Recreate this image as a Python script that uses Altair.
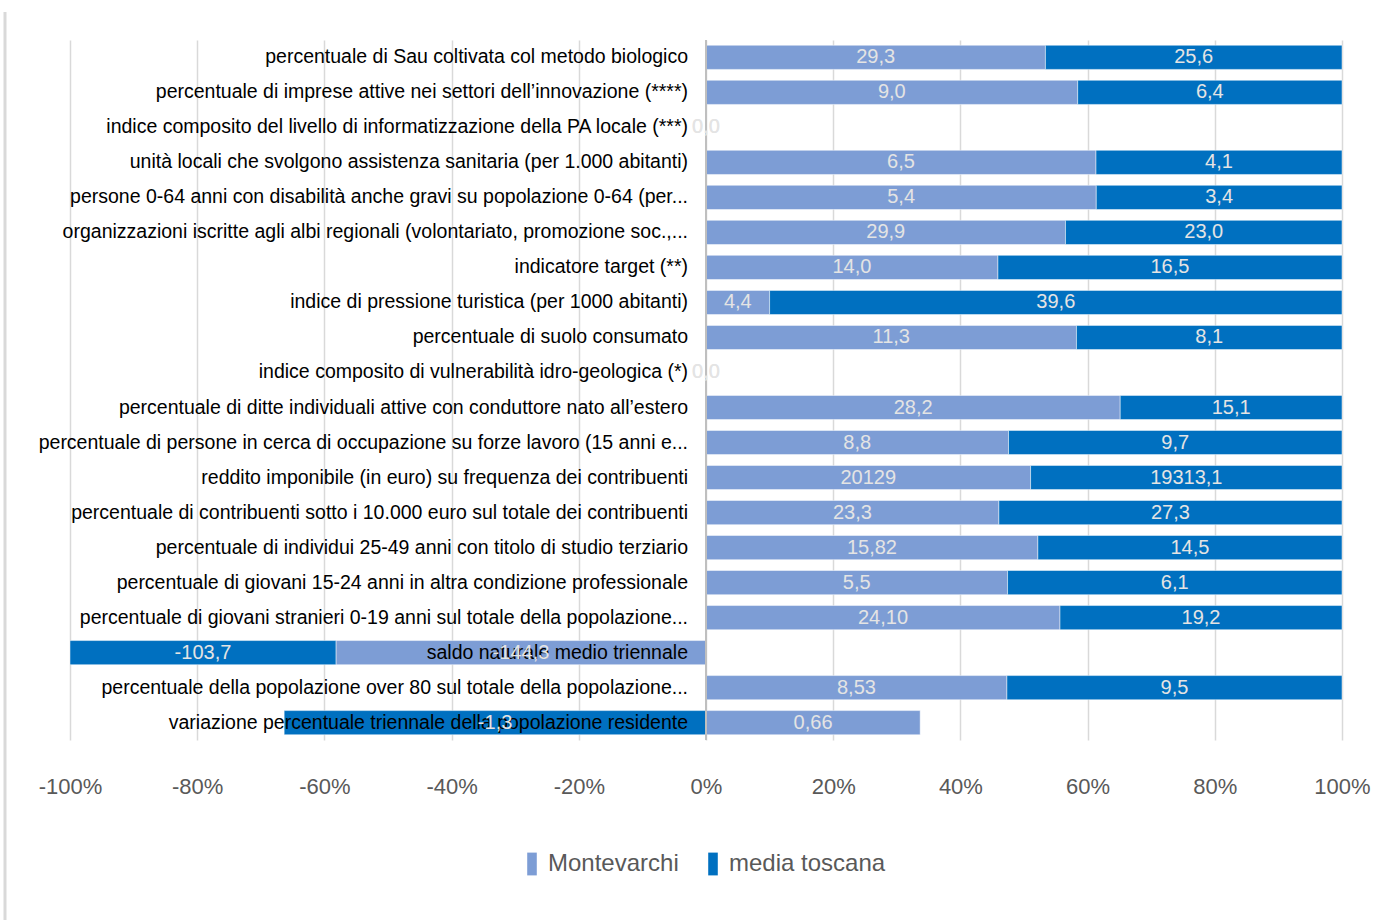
import altair as alt
import pandas as pd

categories = [
    "percentuale di Sau coltivata col metodo biologico",
    "percentuale di imprese attive nei settori dell\u2019innovazione (****)",
    "indice composito del livello di informatizzazione della PA locale (***)",
    "unità locali che svolgono assistenza sanitaria (per 1.000 abitanti)",
    "persone 0-64 anni con disabilità anche gravi su popolazione 0-64 (per...",
    "organizzazioni iscritte agli albi regionali (volontariato, promozione soc.,...",
    "indicatore target (**)",
    "indice di pressione turistica (per 1000 abitanti)",
    "percentuale di suolo consumato",
    "indice composito di vulnerabilità idro-geologica (*)",
    "percentuale di ditte individuali attive con conduttore nato all\u2019estero",
    "percentuale di persone in cerca di occupazione su forze lavoro (15 anni e...",
    "reddito imponibile (in euro) su frequenza dei contribuenti",
    "percentuale di contribuenti sotto i 10.000 euro sul totale dei contribuenti",
    "percentuale di individui 25-49 anni con titolo di studio terziario",
    "percentuale di giovani 15-24 anni in altra condizione professionale",
    "percentuale di giovani stranieri 0-19 anni sul totale della popolazione...",
    "saldo naturale medio triennale",
    "percentuale della popolazione over 80 sul totale della popolazione...",
    "variazione percentuale triennale della popolazione residente",
]
montevarchi = [29.3, 9.0, 0, 6.5, 5.4, 29.9, 14.0, 4.4, 11.3, 0, 28.2, 8.8,
               20129, 23.3, 15.82, 5.5, 24.10, -144.3, 8.53, 0.66]
montevarchi_labels = ["29,3", "9,0", "0,0", "6,5", "5,4", "29,9", "14,0", "4,4", "11,3", "0,0",
                      "28,2", "8,8", "20129", "23,3", "15,82", "5,5", "24,10", "-144,3", "8,53", "0,66"]
toscana = [25.6, 6.4, 0, 4.1, 3.4, 23.0, 16.5, 39.6, 8.1, 0, 15.1, 9.7,
           19313.1, 27.3, 14.5, 6.1, 19.2, -103.7, 9.5, -1.3]
toscana_labels = ["25,6", "6,4", "0,0", "4,1", "3,4", "23,0", "16,5", "39,6", "8,1", "0,0",
                  "15,1", "9,7", "19313,1", "27,3", "14,5", "6,1", "19,2", "-103,7", "9,5", "-1,3"]
series = ["Montevarchi", "media toscana"]
colors = ["#7d9dd5", "#0070c0"]
ticks = [-1, -0.8, -0.6, -0.4, -0.2, 0, 0.2, 0.4, 0.6, 0.8, 1]

rows = []
for i, c in enumerate(categories):
    rows.append({"cat": c, "serie": series[0], "v": montevarchi[i], "lab": montevarchi_labels[i], "ord": 0})
    rows.append({"cat": c, "serie": series[1], "v": toscana[i], "lab": toscana_labels[i], "ord": 1})
df = pd.DataFrame(rows)

FONT = "Liberation Sans, Arial, sans-serif"

base = alt.Chart(df).transform_calculate(
    absv="abs(datum.v)"
).transform_joinaggregate(
    tot="sum(absv)", groupby=["cat"]
).transform_calculate(
    pct="datum.tot == 0 ? 0 : datum.v / datum.tot"
).transform_stack(
    stack="pct", groupby=["cat"], as_=["x0", "x1"], sort=[alt.SortField("ord")]
).transform_calculate(
    mid="(datum.x0 + datum.x1) / 2"
)

yenc = alt.Y("cat:N", sort=categories, axis=None,
             scale=alt.Scale(paddingInner=0.31, paddingOuter=0.15))
xscale = alt.Scale(domain=[-1, 1], nice=False, zero=False)

bars = base.mark_bar(stroke="#ffffff", strokeWidth=0.8, strokeOpacity=0.6).encode(
    x=alt.X("x0:Q", scale=xscale, title=None,
            axis=alt.Axis(values=ticks, labelExpr="round(datum.value*100) + '%'",
                          grid=True, gridColor="#d9d9d9", gridWidth=1.5,
                          domain=False, ticks=False, labelPadding=36,
                          labelFlush=False, labelBound=False, labelOverlap=False,
                          labelFont=FONT, labelFontSize=22, labelColor="#595959")),
    x2="x1:Q",
    y=yenc,
    color=alt.Color("serie:N", sort=series,
                    scale=alt.Scale(domain=series, range=colors),
                    legend=alt.Legend(title=None, orient="none", direction="horizontal",
                                      legendX=450, legendY=812,
                                      symbolType="M-0.42,-1L0.42,-1L0.42,1L-0.42,1Z",
                                      symbolSize=520, symbolStrokeWidth=0,
                                      labelFont=FONT, labelFontSize=24, labelColor="#595959",
                                      labelLimit=0, columnPadding=22, labelOffset=4)),
    order=alt.Order("ord:Q"),
)

zero_rule = alt.Chart(pd.DataFrame({"z": [0]})).mark_rule(color="#bfbfbf", strokeWidth=2).encode(
    x=alt.X("z:Q", scale=xscale)
)

border = alt.Chart(pd.DataFrame({"z": [0]})).mark_rule(color="#d9d9d9", strokeWidth=3).encode(
    x=alt.value(-65), y=alt.value(-28), y2=alt.value(880)
)

cat_text = alt.Chart(pd.DataFrame({"cat": categories, "z": [0] * len(categories)})).mark_text(
    align="right", baseline="middle", dx=-18, font=FONT, fontSize=19.5, color="#000000"
).encode(
    x=alt.X("z:Q", scale=xscale),
    y=yenc,
    text="cat:N",
)

val_text = base.mark_text(
    align="center", baseline="middle", font=FONT, fontSize=20, color="#e4e4e4"
).encode(
    x=alt.X("mid:Q", scale=xscale),
    y=yenc,
    text="lab:N",
)

chart = alt.layer(border, bars, zero_rule, cat_text, val_text).properties(
    width=1272, height=700,
    background="#ffffff",
    autosize=alt.AutoSizeParams(type="none"),
    padding={"left": 70, "top": 40, "right": 58, "bottom": 180},
).configure_view(stroke=None)

chart.save("out.html", embed_options={"renderer": "svg", "actions": False})
